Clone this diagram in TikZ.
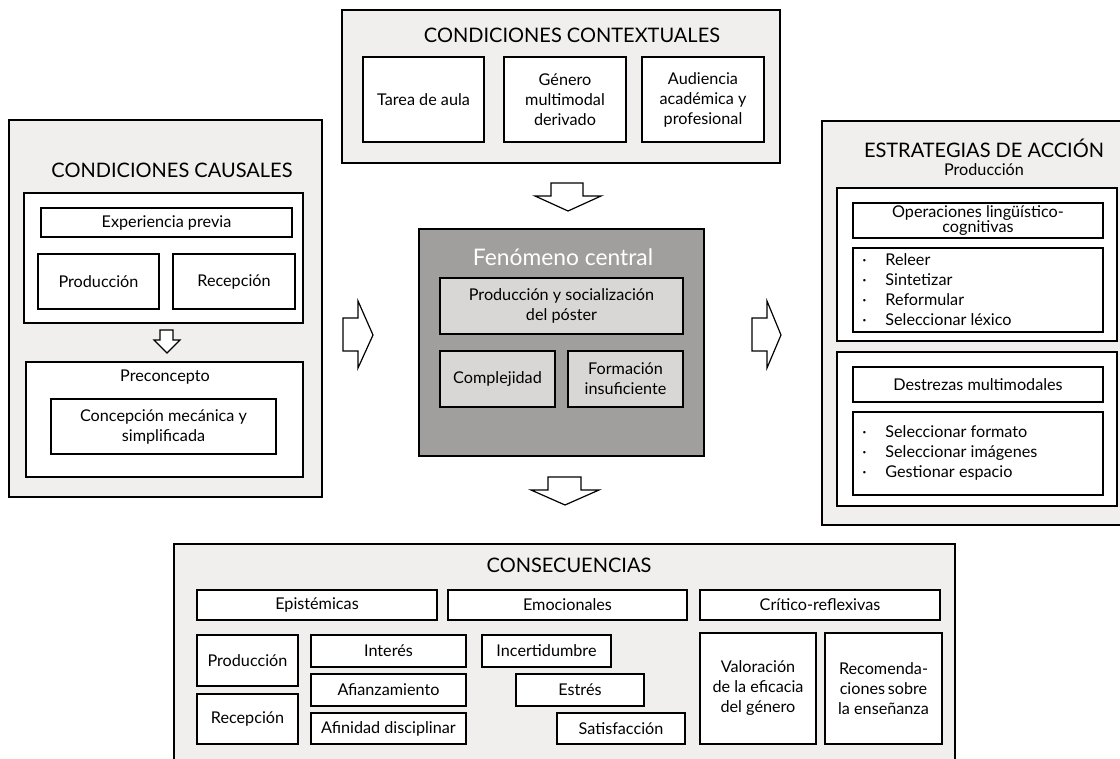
\documentclass[tikz,border=0pt]{standalone}
\usepackage{fontspec}
\setmainfont{Lato}
\definecolor{outerfill}{HTML}{F0EFED}
\definecolor{centralfill}{HTML}{A09F9D}
\definecolor{innerfill}{HTML}{D8D7D5}
\tikzset{
  boxst/.style={draw=black, line width=0.6pt, fill=white, inner sep=0pt, align=center,
    font=\fontsize{8.1}{10}\selectfont},
  outerst/.style={boxst, fill=outerfill},
  centralst/.style={boxst, fill=centralfill},
  graybox/.style={boxst, fill=innerfill},
  titlest/.style={font=\fontsize{10}{12}\selectfont, inner sep=0pt},
  txt/.style={font=\fontsize{8.1}{10}\selectfont, inner sep=0pt},
  blockarrow/.style={draw=black, line width=0.6pt, fill=white, line join=miter},
}
\newcommand\mybox[7][]{%
  \pgfmathsetmacro\bxcx{(#3+#5)/2}%
  \pgfmathsetmacro\bxcy{(#4+#6)/2}%
  \pgfmathsetmacro\bxw{(#5-#3)*0.5}%
  \pgfmathsetmacro\bxh{(#6-#4)*0.5}%
  \node[boxst,#1,minimum width=\bxw pt,minimum height=\bxh pt] (#2) at (\bxcx,\bxcy) {#7};}
\begin{document}
\begin{tikzpicture}[x=0.5pt,y=-0.5pt]
\useasboundingbox (0,0) rectangle (1120,759);
\fill[white] (0,0) rectangle (1120,759);

% ---------- Condiciones causales ----------
\mybox[outerst]{causal}{9}{120}{322}{497}{}
\node[titlest] (causaltitle) at (172,170) {CONDICIONES CAUSALES};
\mybox{expbox}{24}{193}{303}{323}{}
\mybox{exp}{41}{208}{292}{237}{Experiencia previa}
\mybox{prodA}{38}{254}{159}{309}{Producción}
\mybox{recA}{173}{254}{295}{309}{Recepción}
\mybox{precon}{26}{362}{303}{477}{}
\node[txt] (precontitle) at (165,377) {Preconcepto};
\mybox{concep}{51}{399}{276}{454}{Concepción mecánica y\\simplificada}
\draw[blockarrow] (160,330) -- (173,330) -- (173,340) -- (180,340) -- (167,353) -- (154,340) -- (160,340) -- cycle;

% ---------- Condiciones contextuales ----------
\mybox[outerst]{context}{342}{10}{780}{163}{}
\node[titlest] (contexttitle) at (572,35) {CONDICIONES CONTEXTUALES};
\mybox{tarea}{363}{57}{484}{142}{Tarea de aula}
\mybox{genero}{504}{57}{626}{142}{Género\\multimodal\\derivado}
\mybox{audiencia}{642}{57}{764}{142}{Audiencia\\académica y\\profesional}

% ---------- Fenomeno central ----------
\mybox[centralst]{central}{419}{229}{704}{456}{}
\node[font=\fontsize{11.4}{13}\selectfont, text=white, inner sep=0pt] (centraltitle) at (563,257) {Fenómeno central};
\mybox[graybox]{prodsoc}{440}{278}{683}{334}{Producción y socialización\\del póster}
\mybox[graybox]{complej}{440}{351}{555}{407}{Complejidad}
\mybox[graybox]{formac}{568}{351}{683}{407}{Formación\\insuficiente}

% block arrows
\draw[blockarrow] (551,183) -- (583,183) -- (583,196) -- (601,196) -- (568,211) -- (535,196) -- (551,196) -- cycle;
\draw[blockarrow] (548,477) -- (581,477) -- (581,490) -- (599,490) -- (565,505) -- (531,490) -- (548,490) -- cycle;
\draw[blockarrow] (343,318) -- (358,318) -- (358,301) -- (373,335) -- (358,368) -- (358,351) -- (343,351) -- cycle;
\draw[blockarrow] (752,318) -- (767,318) -- (767,301) -- (781,335) -- (767,368) -- (767,351) -- (752,351) -- cycle;

% ---------- Estrategias de accion ----------
\mybox[outerst]{estrat}{822}{121}{1126}{525}{}
\node[titlest] (estrattitle) at (984,148) {ESTRATEGIAS DE ACCIÓN};
\node[txt] (estratsub) at (984,170) {Producción};
\mybox{opbox}{837}{188}{1117}{341}{}
\mybox[font=\fontsize{8.1}{7.5}\selectfont]{oper}{853}{203}{1103}{238}{Operaciones lingüístico-\\cognitivas}
\mybox{oplist}{853}{248}{1103}{332}{}
\node[txt, anchor=north west, align=left] (opitems) at (862,251) {%
  \setlength{\tabcolsep}{0pt}\renewcommand{\arraystretch}{1}%
  \begin{tabular}{@{}p{11.5pt}l@{}}
  · & Releer\\
  · & Sintetizar\\
  · & Reformular\\
  · & Seleccionar léxico
  \end{tabular}};
\mybox{destbox}{837}{352}{1117}{506}{}
\mybox{destrezas}{853}{367}{1103}{402}{Destrezas multimodales}
\mybox{destlist}{853}{412}{1103}{495}{}
\node[txt, anchor=north west, align=left] (destitems) at (862,423) {%
  \setlength{\tabcolsep}{0pt}\renewcommand{\arraystretch}{1}%
  \begin{tabular}{@{}p{11.5pt}l@{}}
  · & Seleccionar formato\\
  · & Seleccionar imágenes\\
  · & Gestionar espacio
  \end{tabular}};

% ---------- Consecuencias ----------
\mybox[outerst]{consec}{174}{544}{955}{765}{}
\node[titlest] (consectitle) at (569,565) {CONSECUENCIAS};
\mybox{epist}{197}{590}{437}{620}{Epistémicas}
\mybox{emoc}{448}{590}{687}{620}{Emocionales}
\mybox{critico}{700}{590}{940}{620}{Crítico-reflexivas}
\mybox{prodB}{197}{635}{298}{686}{Producción}
\mybox{recB}{197}{694}{298}{744}{Recepción}
\mybox{interes}{311}{635}{466}{667}{Interés}
\mybox{afianz}{311}{674}{466}{706}{Afianzamiento}
\mybox{afinid}{311}{713}{466}{744}{Afinidad disciplinar}
\mybox{incert}{482}{635}{611}{667}{Incertidumbre}
\mybox{estres}{516}{674}{644}{706}{Estrés}
\mybox{satisf}{557}{713}{685}{744}{Satisfacción}
\mybox{valor}{700}{633}{816}{744}{Valoración\\de la eficacia\\del género}
\mybox{recom}{825}{633}{942}{744}{Recomenda-\\ciones\,sobre\\la enseñanza}
\end{tikzpicture}
\end{document}
